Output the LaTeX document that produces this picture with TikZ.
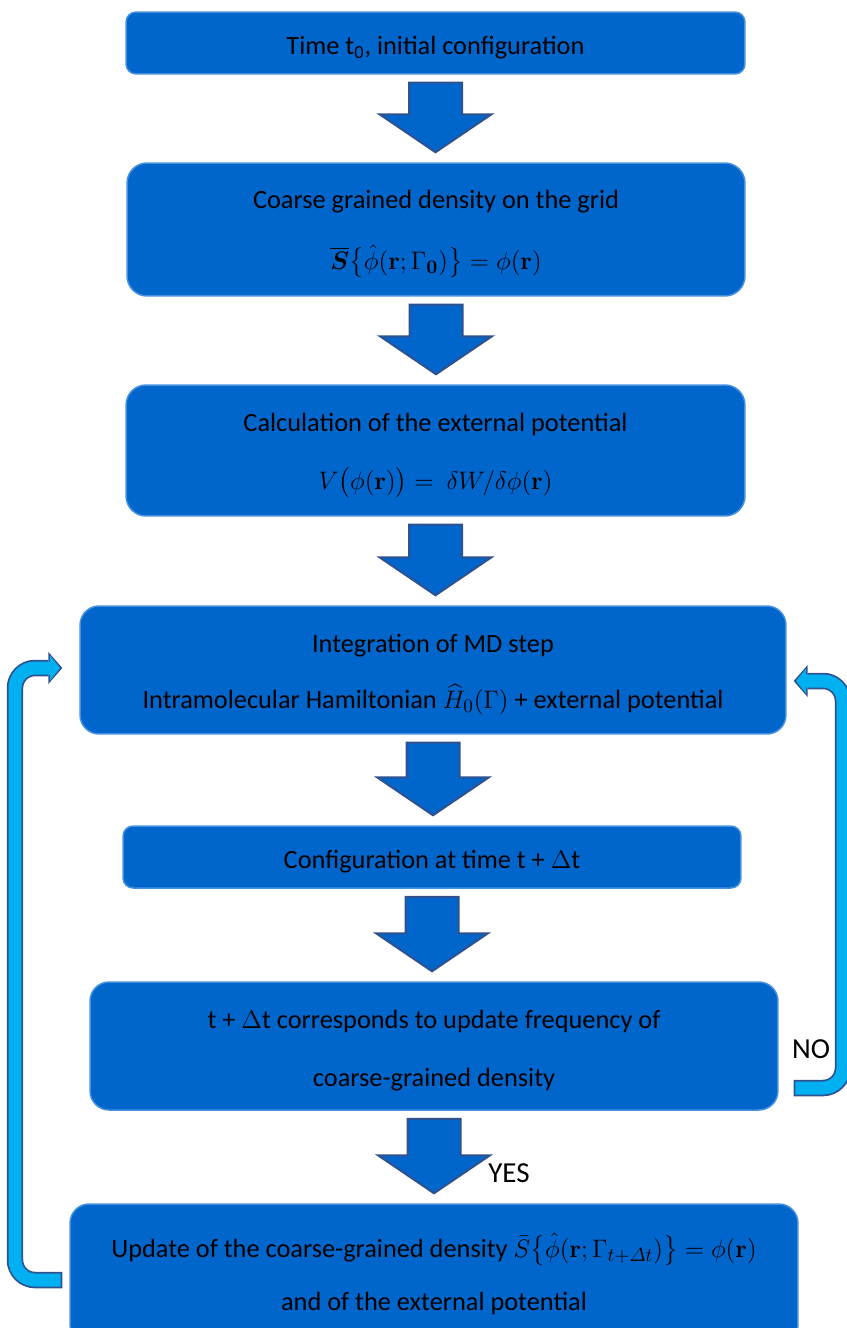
\documentclass[tikz,border=0pt]{standalone}
\usepackage{amsmath}
\usepackage[no-math]{fontspec}
\setmainfont{Carlito}
\usetikzlibrary{calc,arrows.meta}

\definecolor{boxblue}{RGB}{0,102,204}
\definecolor{boxline}{RGB}{70,145,222}
\definecolor{arrowedge}{RGB}{47,82,143}
\definecolor{loopblue}{RGB}{0,176,240}

\newcommand{\topstrut}{\rule{0pt}{0.56cm}}

\tikzset{
	stage/.style={fill=boxblue, draw=boxline, line width=0.03cm, inner sep=0pt, align=center, font=\fontsize{15}{18}\selectfont},
	flow/.style={fill=boxblue, draw=arrowedge, line width=0.04cm, line join=miter,
		to path={($(\tikztostart)+(-26.5,8)$) -- ($(\tikztostart |- \tikztotarget)+(-26.5,-48)$) -- ($(\tikztostart |- \tikztotarget)+(-56,-48)$) -- ($(\tikztostart |- \tikztotarget)+(0,-10)$) -- ($(\tikztostart |- \tikztotarget)+(56,-48)$) -- ($(\tikztostart |- \tikztotarget)+(26.5,-48)$) -- ($(\tikztostart)+(26.5,8)$) -- cycle}},
	bandedge/.style={draw=arrowedge, line width=0.33cm, rounded corners=0.4cm, -{Triangle[length=0.28cm, width=0.64cm, line width=0pt]}},
	bandfill/.style={draw=loopblue, line width=0.26cm, rounded corners=0.4cm, shorten <=0.035cm, shorten >=0.047cm, -{Triangle[length=0.2cm, width=0.5cm, line width=0pt]}},
	answer/.style={font=\fontsize{16.5}{19}\selectfont, inner sep=0pt}
}

\begin{document}
\begin{tikzpicture}[x=0.02cm, y=-0.02cm]
	\useasboundingbox (0,0) rectangle (847,1328);
	\clip (0,0) rectangle (847,1328);
	
	% stages of the scheme
	\node[stage, rounded corners=0.2cm, minimum width=12.38cm, minimum height=1.24cm] (init) at (435.5,43) {\topstrut Time t\textsubscript{0}, initial configuration};
	\node[stage, rounded corners=0.4cm, minimum width=12.36cm, minimum height=2.66cm] (grid) at (436,229.5) {\topstrut Coarse grained density on the grid\\[0.58cm] $\overline{\boldsymbol{S}}\big\{\hat{\phi}(\mathbf{r};\Gamma_{\boldsymbol{0}})\big\} = \phi(\mathbf{r})$};
	\node[stage, rounded corners=0.4cm, minimum width=12.38cm, minimum height=2.62cm] (extpot) at (435.5,450.5) {\topstrut Calculation of the external potential\\[0.53cm] $V\big(\phi(\mathbf{r})\big) =\ \delta W/\delta\phi(\mathbf{r})$};
	\node[stage, rounded corners=0.38cm, minimum width=14.12cm, minimum height=2.56cm] (mdstep) at (433,670) {\topstrut Integration of MD step\\[0.49cm] Intramolecular Hamiltonian $\widehat{H}_0(\Gamma)$ + external potential};
	\node[stage, rounded corners=0.2cm, minimum width=12.36cm, minimum height=1.24cm] (config) at (432,857) {\topstrut Configuration at time t + $\Delta$t};
	\node[stage, rounded corners=0.38cm, minimum width=13.76cm, minimum height=2.56cm] (check) at (434,1046) {\topstrut t + $\Delta$t corresponds to update frequency of\\[0.52cm] coarse-grained density};
	\node[stage, rounded corners=0.38cm, minimum width=14.56cm, minimum height=2.8cm] (upd) at (434,1274) {Update of the coarse-grained density $\bar{S}\big\{\hat{\phi}(\mathbf{r};\Gamma_{t+\varDelta t})\big\} = \phi(\mathbf{r})$\\[0.44cm] and of the external potential};
	
	% block arrows
	\draw[flow] (init.south) to (grid.north);
	\draw[flow] (grid.south) to (extpot.north);
	\draw[flow] (extpot.south) to (mdstep.north);
	\draw[flow] (mdstep.south) to (config.north);
	\draw[flow] (config.south) to (check.north);
	\draw[flow] (check.south) to (upd.north);
	
	\node[answer] (yes) at (509,1173) {YES};
	\node[answer] (no) at (811,1049) {NO};
	
	% loops back to the MD step
	\coordinate (lrail) at (15,0);
	\coordinate (rrail) at (843,0);
	\coordinate (lstart) at ($(upd.west)+(-7,6)$);
	\coordinate (ltip) at ($(mdstep.west)+(-17,-2)$);
	\coordinate (rstart) at ($(check.east)+(15,42)$);
	\coordinate (rtip) at ($(mdstep.east)+(7,11)$);
	\draw[bandedge] (lstart) -- (lstart -| lrail) -- (ltip -| lrail) -- (ltip);
	\draw[bandfill] (lstart) -- (lstart -| lrail) -- (ltip -| lrail) -- (ltip);
	\draw[bandedge] (rstart) -- (rstart -| rrail) -- (rtip -| rrail) -- (rtip);
	\draw[bandfill] (rstart) -- (rstart -| rrail) -- (rtip -| rrail) -- (rtip);
\end{tikzpicture}
\end{document}
